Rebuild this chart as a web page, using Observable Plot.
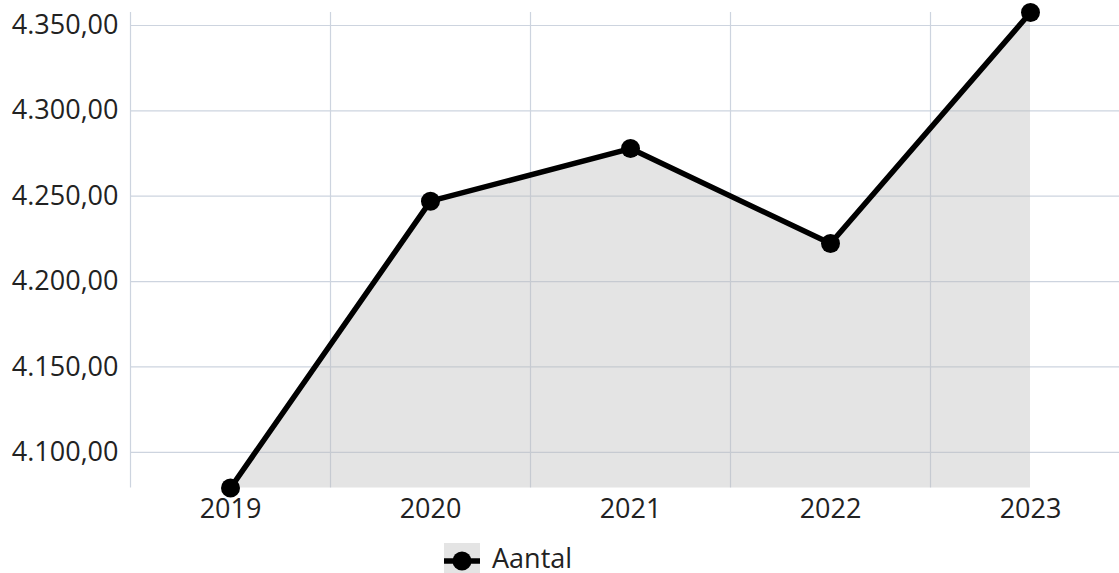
<!DOCTYPE html>
<html><head><meta charset="utf-8">
<script src="https://cdn.jsdelivr.net/npm/d3@7"></script>
<script src="https://cdn.jsdelivr.net/npm/@observablehq/plot@0.6"></script>
<style>
body{margin:0;background:#fff;font-family:"Open Sans",sans-serif;}
#legend{display:flex;align-items:center;margin-left:444px;margin-top:13px;font-size:27px;color:#222;height:30px;overflow:visible;}
#legend svg{margin-right:12px;display:block;}
#legend span{line-height:22px;display:block;}
</style></head><body>
<div id="chart"></div>
<div id="legend"></div>
<script>
const years = [2019, 2020, 2021, 2022, 2023];
const aantal = [4079.1, 4247.1, 4277.9, 4222.3, 4357.6];
const yTicks = [4100, 4150, 4200, 4250, 4300, 4350];
const seriesName = "Aantal";

const data = years.map((y, i) => ({year: y, value: aantal[i]}));
const yMin = d3.min(aantal), yMax = d3.max(aantal);
const bounds = years.map(y => y - 0.5);
const nl = d3.formatLocale({decimal: ",", thousands: ".", grouping: [3], currency: ["€ ", ""]});
const fmt = nl.format(",.2f");

const chart = Plot.plot({
  width: 1119,
  height: 530,
  marginLeft: 130,
  marginRight: 0,
  marginTop: 12,
  marginBottom: 42.5,
  style: {fontFamily: "Open Sans", fontSize: "27px", color: "#222", background: "#fff", overflow: "visible"},
  x: {type: "linear", domain: [years[0] - 0.5, years[years.length - 1] + 0.5], range: [130, 1130], label: null},
  y: {domain: [yMin, yMax], label: null},
  marks: [
    Plot.ruleY(yTicks, {stroke: "#cdd4df", strokeWidth: 1.2}),
    Plot.ruleX(bounds, {stroke: "#cdd4df", strokeWidth: 1.2}),
    Plot.areaY(data, {x: "year", y1: yMin, y2: "value", fill: "#bcbcbc", fillOpacity: 0.4}),
    Plot.line(data, {x: "year", y: "value", stroke: "#000", strokeWidth: 5.5, strokeLinejoin: "round"}),
    Plot.dot(data, {x: "year", y: "value", r: 9.5, fill: "#000"}),
    Plot.axisY(yTicks, {tickSize: 0, tickPadding: 12, tickFormat: fmt, label: null, fontSize: 27}),
    Plot.axisX(years, {tickSize: 0, tickPadding: 11, tickFormat: d => String(d), label: null, fontSize: 27})
  ]
});
document.getElementById("chart").appendChild(chart);

// legend
const leg = d3.select("#legend");
const sw = leg.append("svg").attr("width", 36).attr("height", 30).style("overflow", "visible");
sw.append("rect").attr("width", 36).attr("height", 36).attr("fill", "#e4e4e4");
sw.append("line").attr("x1", 0).attr("x2", 36).attr("y1", 18).attr("y2", 18).attr("stroke", "#000").attr("stroke-width", 5.5);
sw.append("circle").attr("cx", 18).attr("cy", 18).attr("r", 9.5).attr("fill", "#000");
leg.append("span").text(seriesName);
</script>
</body></html>
